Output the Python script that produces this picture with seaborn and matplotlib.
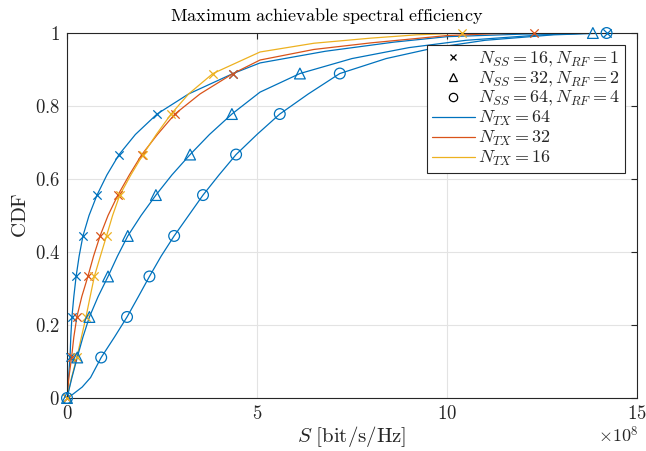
import numpy as np
import pandas as pd
import matplotlib
matplotlib.use("Agg")
import matplotlib.pyplot as plt
from matplotlib.lines import Line2D
import seaborn as sns

# Spectral efficiency S (in units of 1e8 bit/s/Hz) against CDF for each configuration
s_tx64_ss16 = [0, 0.04, 0.08, 0.10, 0.13, 0.18, 0.24, 0.32, 0.42, 0.58, 0.79, 1.05, 1.37,
               1.80, 2.37, 3.2, 4.37, 5.08, 6.8, 8.6, 10.0, 12.0, 14.2]
cdf_tx64_ss16 = [0, .056, .111, .167, .222, .278, .333, .389, .444, .5, .556, .611, .667,
                 .722, .778, .833, .889, .918, .95, .975, .99, .997, 1.0]

s_tx32_ss16 = [0, 0.05, 0.12, 0.18, 0.26, 0.39, 0.55, 0.70, 0.87, 1.08, 1.34, 1.64, 1.97,
               2.38, 2.84, 3.5, 4.37, 5.08, 6.5, 8.0, 10.0, 11.2, 12.3]
cdf_tx32_ss16 = [0, .056, .111, .167, .222, .278, .333, .389, .444, .5, .556, .611, .667,
                 .722, .778, .833, .889, .926, .955, .973, .993, .998, 1.0]

s_tx16_ss16 = [0, 0.12, 0.26, 0.38, 0.50, 0.61, 0.72, 0.88, 1.04, 1.20, 1.39, 1.68, 2.00,
               2.35, 2.74, 3.2, 3.84, 5.08, 6.5, 8.0, 9.2, 10.4]
cdf_tx16_ss16 = [0, .056, .111, .167, .222, .278, .333, .389, .444, .5, .556, .611, .667,
                 .722, .778, .833, .889, .948, .972, .986, .995, 1.0]

s_tx64_ss32 = [0, 0.13, 0.27, 0.42, 0.59, 0.82, 1.08, 1.33, 1.60, 1.95, 2.34, 2.76, 3.24,
               3.75, 4.34, 5.08, 6.13, 7.5, 9.0, 10.5, 12.5, 13.84]
cdf_tx64_ss32 = [0, .056, .111, .167, .222, .278, .333, .389, .444, .5, .556, .611, .667,
                 .722, .778, .838, .889, .93, .96, .98, .995, 1.0]

s_tx64_ss64 = [0, 0.15, 0.4, 0.62, 0.90, 1.25, 1.58, 1.88, 2.17, 2.48, 2.82, 3.2, 3.58,
               4.0, 4.45, 5.0, 5.6, 6.35, 7.18, 8.4, 9.7, 11.0, 12.8, 14.2]
cdf_tx64_ss64 = [0, .01, .03, .056, .111, .167, .222, .278, .333, .389, .444, .5, .556,
                 .611, .667, .722, .778, .833, .889, .93, .96, .98, .995, 1.0]

# CDF levels that carry a marker
marker_levels = [0, .111, .222, .333, .444, .556, .667, .778, .889, 1.0]

x_ticks = [0, 5, 10, 15]
y_ticks = [0, 0.2, 0.4, 0.6, 0.8, 1.0]
y_tick_labels = ["0", "0.2", "0.4", "0.6", "0.8", "1"]

ss_labels = [r"$N_{SS}=16, N_{RF}=1$", r"$N_{SS}=32, N_{RF}=2$", r"$N_{SS}=64, N_{RF}=4$"]
tx_labels = [r"$N_{TX}=64$", r"$N_{TX}=32$", r"$N_{TX}=16$"]

BLUE, RED, YELLOW = "#0072BD", "#D95319", "#EDB120"

sns.set_theme(style="white")
plt.rcParams["font.family"] = ["serif"]
plt.rcParams["font.serif"] = ["cmr10", "DejaVu Serif"]
plt.rcParams["mathtext.fontset"] = "cm"
plt.rcParams["axes.formatter.use_mathtext"] = True

fig = plt.figure(figsize=(6.46, 4.51), dpi=100)
ax = fig.add_axes([0.1037, 0.1175, 0.8823, 0.8093])

curves = [
    (s_tx64_ss16, cdf_tx64_ss16, BLUE, "x"),
    (s_tx32_ss16, cdf_tx32_ss16, RED, "x"),
    (s_tx16_ss16, cdf_tx16_ss16, YELLOW, "x"),
    (s_tx64_ss32, cdf_tx64_ss32, BLUE, "^"),
    (s_tx64_ss64, cdf_tx64_ss64, BLUE, "o"),
]

for s, c, col, mk in curves:
    df = pd.DataFrame({"S": s, "CDF": c})
    sns.lineplot(data=df, x="S", y="CDF", color=col, lw=0.9, sort=False,
                 estimator=None, ax=ax)
    marks = df[np.isin(np.round(df["CDF"], 3), marker_levels)]
    if mk == "x":
        sns.scatterplot(data=marks, x="S", y="CDF", marker="x", color=col, s=36,
                        linewidth=0.9, ax=ax, clip_on=False, zorder=5)
    else:
        sns.scatterplot(data=marks, x="S", y="CDF", marker=mk, s=60,
                        facecolors="none", edgecolor=col, linewidth=0.9, ax=ax,
                        clip_on=False, zorder=5)

ax.set_xlim(0, 15)
ax.set_ylim(0, 1)
ax.set_xticks(x_ticks)
ax.set_xticklabels([f"${t}$" for t in x_ticks])
ax.set_yticks(y_ticks)
ax.set_yticklabels([f"${t}$" for t in y_tick_labels])
ax.tick_params(direction="in", length=4, width=0.8, top=True, right=True,
               labelsize=13.5, colors="#262626", pad=5)
for sp in ax.spines.values():
    sp.set_color("#262626")
    sp.set_linewidth(0.8)
ax.grid(True, color="#e3e3e3", lw=0.8)
ax.set_axisbelow(True)

ax.set_xlabel(r"$S\ [\mathrm{bit/s/Hz}]$", fontsize=15, color="#262626", labelpad=1)
ax.set_ylabel(r"$\mathrm{CDF}$", fontsize=15, color="#262626", labelpad=3)
ax.set_title(r"$\mathrm{Maximum\ achievable\ spectral\ efficiency}$", fontsize=13,
             color="black", x=0.455, pad=9)
fig.text(0.957, 0.018, r"$\times10^{8}$", fontsize=13, color="#262626", ha="center")

handles = [
    Line2D([], [], color="black", marker="x", ls="none", ms=4, mew=0.9),
    Line2D([], [], color="black", marker="^", ls="none", ms=6, mew=0.9, mfc="none"),
    Line2D([], [], color="black", marker="o", ls="none", ms=6, mew=0.9, mfc="none"),
    Line2D([], [], color=BLUE, lw=0.9),
    Line2D([], [], color=RED, lw=0.9),
    Line2D([], [], color=YELLOW, lw=0.9),
]
leg = ax.legend(handles, ss_labels + tx_labels, loc="upper right",
                bbox_to_anchor=(0.979, 0.967), fontsize=13, frameon=True,
                fancybox=False, framealpha=1, edgecolor="#262626",
                handlelength=2.4, labelspacing=0.05, handletextpad=0.2,
                borderpad=0.25, borderaxespad=0)
leg.get_frame().set_linewidth(0.8)

fig.savefig("out.png", dpi=100)
